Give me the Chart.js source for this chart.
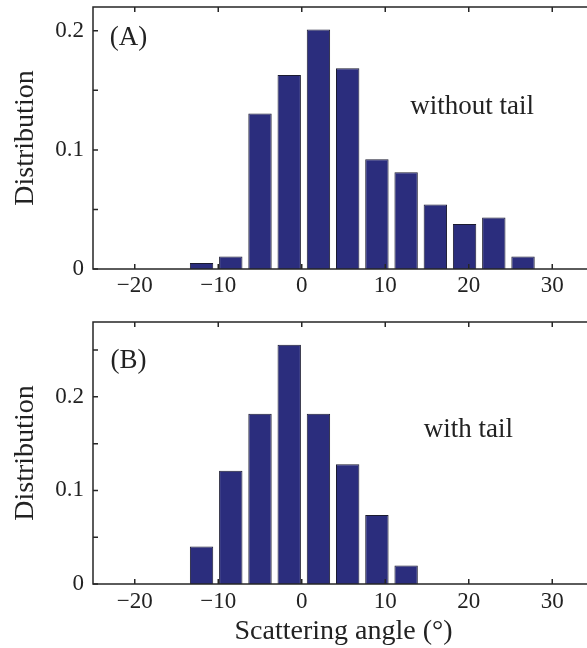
<!DOCTYPE html>
<html>
<head>
<meta charset="utf-8">
<script src="https://cdn.jsdelivr.net/npm/chart.js@4/dist/chart.umd.min.js"></script>
<style>
  html, body { margin: 0; padding: 0; background: #fff; overflow: hidden; }
  #wrap { position: relative; width: 587px; height: 648px; overflow: hidden; }
  canvas { position: absolute; left: 0; }
</style>
</head>
<body>
<div id="wrap">
  <canvas id="panelA" width="600" height="300" style="top:0"></canvas>
  <canvas id="panelB" width="600" height="348" style="top:300px"></canvas>
</div>
<script>
// bin centres (degrees) and normalised counts
const angles = [-12, -8.5, -5, -1.5, 2, 5.5, 9, 12.5, 16, 19.5, 23, 26.5]
const withoutTail = [0.005, 0.0106, 0.1305, 0.163, 0.2012, 0.1685, 0.0922, 0.0813, 0.0542, 0.0377, 0.0433, 0.0106]
const withTail = [0.040, 0.121, 0.182, 0.2556, 0.182, 0.128, 0.0738, 0.0199]
const xTicks = [-20, -10, 0, 10, 20, 30]
const yLabels = ['0', '0.1', '0.2']

const serif = '"Liberation Serif", "Times New Roman", serif'
const ink = '#222'
const barFill = '#2b2d7d'

// box around the axes with matlab style inward ticks, plus the panel notes
const frame = {
  id: 'frame',
  afterDraw(chart, args, opts) {
    const { ctx, chartArea: a, scales: { x, y } } = chart
    ctx.save()
    ctx.strokeStyle = '#262626'
    ctx.lineWidth = 1.5
    ctx.strokeRect(a.left, a.top, a.right - a.left, a.bottom - a.top)
    ctx.beginPath()
    x.ticks.forEach(t => {
      const px = x.getPixelForValue(t.value)
      ctx.moveTo(px, a.bottom); ctx.lineTo(px, a.bottom - 5)
      ctx.moveTo(px, a.top); ctx.lineTo(px, a.top + 5)
    })
    y.ticks.forEach(t => {
      const py = y.getPixelForValue(t.value)
      ctx.moveTo(a.left, py); ctx.lineTo(a.left + 5, py)
      ctx.moveTo(a.right, py); ctx.lineTo(a.right - 5, py)
    })
    ctx.stroke()
    ctx.fillStyle = ink
    ctx.font = '27px ' + serif
    ctx.textAlign = 'left'
    ctx.textBaseline = 'middle'
    opts.notes.forEach(n => {
      ctx.fillText(n.text, x.getPixelForValue(n.x), y.getPixelForValue(n.y))
    })
    ctx.restore()
  }
}

function makePanel(id, values, yMax, opts) {
  const points = values.map((v, i) => ({ x: angles[i], y: v }))
  return new Chart(document.getElementById(id), {
    type: 'bar',
    data: {
      datasets: [{
        data: points,
        backgroundColor: barFill,
        borderColor: '#1b1b30',
        borderWidth: 1,
        barPercentage: 0.8,
        categoryPercentage: 1
      }]
    },
    plugins: [frame],
    options: {
      responsive: false,
      animation: false,
      events: [],
      layout: { padding: { top: opts.top, right: 6, left: 0, bottom: 0 } },
      plugins: {
        legend: { display: false },
        tooltip: { enabled: false },
        frame: { notes: opts.notes }
      },
      scales: {
        x: {
          type: 'linear',
          offset: false,
          min: -25,
          max: 35,
          grid: { display: false, drawTicks: false, offset: false },
          border: { display: false },
          afterBuildTicks: s => { s.ticks = xTicks.map(v => ({ value: v })) },
          afterFit: s => {
            s.height = opts.xHeight
            s.paddingLeft = 0; s.paddingRight = 0
          },
          ticks: {
            autoSkip: false,
            maxRotation: 0,
            padding: opts.xPad,
            color: ink,
            font: { family: serif, size: 23 },
            callback: v => v < 0 ? '\u2212' + Math.abs(v) : String(v)
          },
          title: {
            display: !!opts.xTitle,
            text: opts.xTitle || '',
            color: ink,
            font: { family: serif, size: 28 },
            padding: { top: 0, bottom: 0 }
          }
        },
        y: {
          min: 0,
          max: yMax,
          grid: { display: false, drawTicks: false },
          border: { display: false },
          afterFit: s => {
            s.width = 93
            s.paddingTop = 0; s.paddingBottom = 0
          },
          ticks: {
            stepSize: 0.05,
            includeBounds: false,
            autoSkip: false,
            padding: 9,
            color: ink,
            font: { family: serif, size: 23 },
            callback: v => {
              const k = Math.round(v * 10)
              return Math.abs(v * 10 - k) < 1e-6 ? yLabels[k] : ''
            }
          },
          title: {
            display: true,
            text: 'Distribution',
            color: ink,
            font: { family: serif, size: 28 },
            padding: { top: 9, bottom: 0 }
          }
        }
      }
    }
  })
}

makePanel('panelA', withoutTail, 0.22, {
  top: 7,
  xHeight: 31,
  xPad: 3,
  notes: [
    { text: '(A)', x: -23, y: 0.194 },
    { text: 'without tail', x: 13, y: 0.136 }
  ]
})

makePanel('panelB', withTail, 0.28, {
  top: 22,
  xHeight: 64,
  xPad: 4,
  xTitle: 'Scattering angle (\u00b0)',
  notes: [
    { text: '(B)', x: -22.9, y: 0.238 },
    { text: 'with tail', x: 14.6, y: 0.165 }
  ]
})
</script>
</body>
</html>
